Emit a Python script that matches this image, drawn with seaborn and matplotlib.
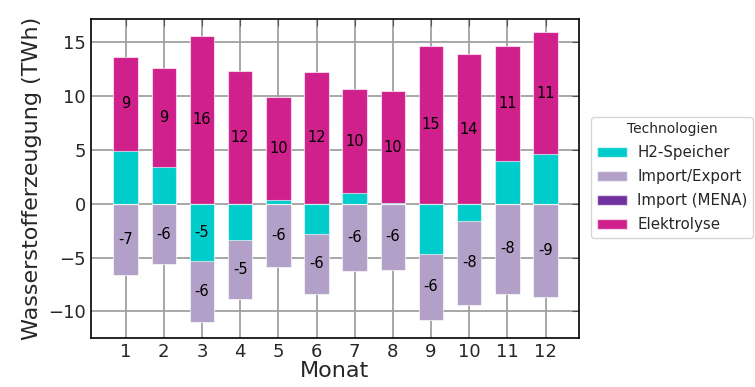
import seaborn as sns
import pandas as pd
import matplotlib.pyplot as plt
from matplotlib.patches import Patch

# monthly hydrogen balance per technology (TWh)
months = [1, 2, 3, 4, 5, 6, 7, 8, 9, 10, 11, 12]
h2_speicher = [4.93, 3.44, -5.30, -3.37, 0.31, -2.79, 1.02, 0.05, -4.67, -1.55, 3.94, 4.65]
import_export = [-6.63, -5.63, -5.72, -5.49, -5.85, -5.60, -6.22, -6.16, -6.08, -7.83, -8.39, -8.70]
import_mena = [0, 0, 0, 0, 0, 0, 0, 0, 0, 0, 0, 0]
elektrolyse = [8.73, 9.20, 15.61, 12.36, 9.63, 12.27, 9.61, 10.39, 14.66, 13.88, 10.72, 11.28]

technologies = ['H2-Speicher', 'Import/Export', 'Import (MENA)', 'Elektrolyse']
colors = ['#00CCCC', '#B3A0C8', '#7030A0', '#D0208C']


def run():
    sns.set_style("white")
    df = pd.DataFrame({'Monat': [str(m) for m in months],
                       'H2-Speicher': h2_speicher,
                       'Import/Export': import_export,
                       'Import (MENA)': import_mena,
                       'Elektrolyse': elektrolyse})
    order = df['Monat'].tolist()

    # stack positive and negative parts separately
    pos_cum = {}
    neg_cum = {}
    pos_run = pd.Series(0.0, index=df.index)
    neg_run = pd.Series(0.0, index=df.index)
    for tech in technologies:
        pos_lo = pos_run.copy()
        neg_lo = neg_run.copy()
        pos_run = pos_run + df[tech].clip(lower=0)
        neg_run = neg_run + df[tech].clip(upper=0)
        pos_cum[tech] = (pos_lo, pos_run.copy())
        neg_cum[tech] = (neg_lo, neg_run.copy())

    fig = plt.figure(figsize=(7.55, 3.87), dpi=100)
    ax = fig.add_axes([0.120, 0.127, 0.647, 0.824])

    # draw outermost cumulative first so inner segments sit on top
    for tech, col in reversed(list(zip(technologies, colors))):
        for cum in (pos_cum, neg_cum):
            top = cum[tech][1]
            if (top - cum[tech][0]).abs().sum() == 0:
                continue
            tmp = pd.DataFrame({'Monat': df['Monat'], 'v': top})
            sns.barplot(data=tmp, x='Monat', y='v', order=order, color=col,
                        width=0.64, saturation=1, edgecolor=(1, 1, 1, 0.6),
                        linewidth=0.8, ax=ax, zorder=3)

    # value labels in the middle of larger segments
    for tech in technologies:
        for i, v in enumerate(df[tech]):
            if abs(v) >= 5:
                lo, hi = (pos_cum if v > 0 else neg_cum)[tech]
                ax.text(i, (lo[i] + hi[i]) / 2, f"{v:.0f}", ha='center', va='center',
                        fontsize=10.5, color='black', zorder=5)

    ax.set_xlim(-0.92, 11.88)
    ax.set_ylim(-12.45, 17.17)
    ax.set_yticks([-10, -5, 0, 5, 10, 15])
    ax.grid(True, color='#a0a0a0', linewidth=1.3, zorder=0)
    ax.set_axisbelow(True)
    ax.tick_params(direction='in', top=True, right=True, length=5, labelsize=13,
                   color='#555555')
    for s in ax.spines.values():
        s.set_color('black')
        s.set_linewidth(1.2)
    ax.set_xlabel('Monat', fontsize=16, labelpad=0)
    ax.set_ylabel('Wasserstofferzeugung (TWh)', fontsize=16)

    handles = [Patch(facecolor=c, edgecolor=(1, 1, 1, 0.6), label=t) for t, c in zip(technologies, colors)]
    ax.legend(handles=handles, title='Technologien', loc='center left', bbox_to_anchor=(1.025, 0.503),
              borderaxespad=0, fontsize=10.8, title_fontsize=10, frameon=True, handlelength=2.0,
              handletextpad=0.7, borderpad=0.35, labelspacing=0.6)

    fig.savefig('out.png', dpi=100)


if __name__ == "__main__":
    run()
